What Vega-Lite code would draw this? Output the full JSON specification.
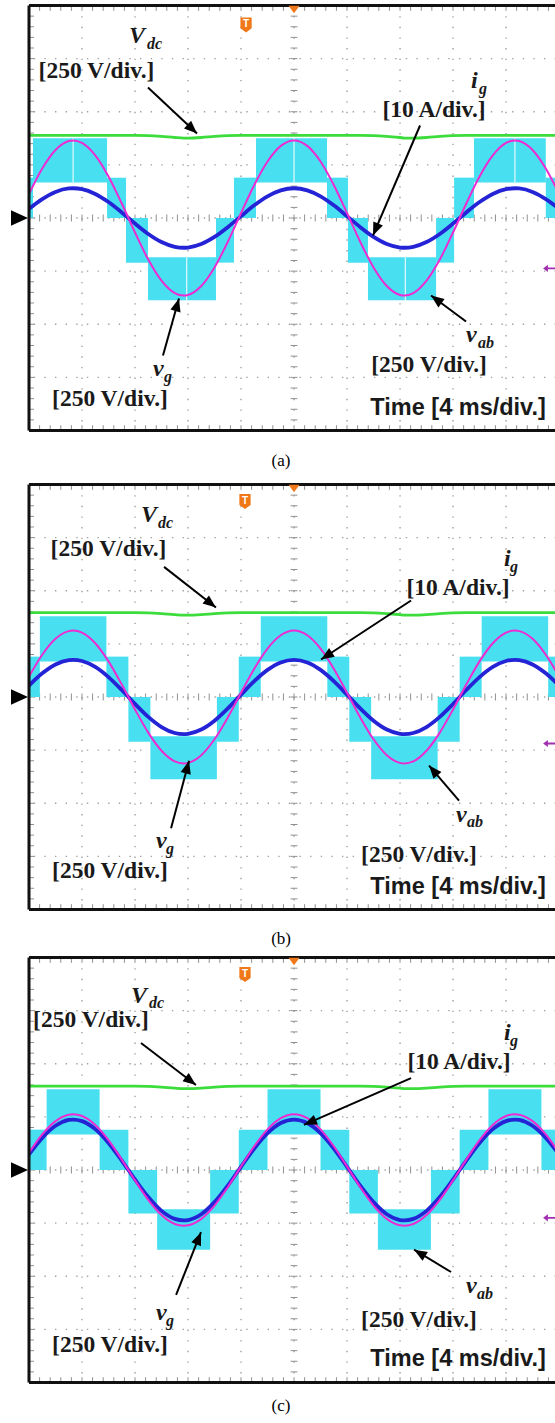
{
"$schema": "https://vega.github.io/schema/vega-lite/v6.json",
"padding": {"left": 10, "top": 3.5, "right": 0, "bottom": 4},
"autosize": {"type": "pad"},
"background": "white",
"config": {"view": {"stroke": null}, "axis": {"disable": true}, "legend": {"disable": true}},
"spacing": 54,
"bounds": "flush",
"datasets": {
"gx": [{"t":4},{"t":8},{"t":12},{"t":16},{"t":20},{"t":24},{"t":28},{"t":32},{"t":36}],
"gy": [{"v":-3},{"v":-2},{"v":-1},{"v":0},{"v":1},{"v":2},{"v":3}],
"bl": [{"t":0}],
"bt": [{"v":4},{"v":-4}],
"gap": [{"p":"a","t":3.33,"lo":0.67,"hi":1.5},{"p":"a","t":20,"lo":0.67,"hi":1.5},{"p":"a","t":36.67,"lo":0.67,"hi":1.5},{"p":"a","t":11.9,"lo":-1.55,"hi":-0.74},{"p":"a","t":28.4,"lo":-1.55,"hi":-0.74}],
"tx": [{"t":0.8},{"t":1.6},{"t":2.4},{"t":3.2},{"t":4},{"t":4.8},{"t":5.6},{"t":6.4},{"t":7.2},{"t":8},{"t":8.8},{"t":9.6},{"t":10.4},{"t":11.2},{"t":12},{"t":12.8},{"t":13.6},{"t":14.4},{"t":15.2},{"t":16},{"t":16.8},{"t":17.6},{"t":18.4},{"t":19.2},{"t":20},{"t":20.8},{"t":21.6},{"t":22.4},{"t":23.2},{"t":24},{"t":24.8},{"t":25.6},{"t":26.4},{"t":27.2},{"t":28},{"t":28.8},{"t":29.6},{"t":30.4},{"t":31.2},{"t":32},{"t":32.8},{"t":33.6},{"t":34.4},{"t":35.2},{"t":36},{"t":36.8},{"t":37.6},{"t":38.4},{"t":39.2}],
"ty": [{"v":-3.8},{"v":-3.6},{"v":-3.4},{"v":-3.2},{"v":-3},{"v":-2.8},{"v":-2.6},{"v":-2.4},{"v":-2.2},{"v":-2},{"v":-1.8},{"v":-1.6},{"v":-1.4},{"v":-1.2},{"v":-1},{"v":-0.8},{"v":-0.6},{"v":-0.4},{"v":-0.2},{"v":0},{"v":0.2},{"v":0.4},{"v":0.6},{"v":0.8},{"v":1},{"v":1.2},{"v":1.4},{"v":1.6},{"v":1.8},{"v":2},{"v":2.2},{"v":2.4},{"v":2.6},{"v":2.8},{"v":3},{"v":3.2},{"v":3.4},{"v":3.6},{"v":3.8}],
"w": [
{"p":"a","t":0,"g":0.451,"i":0.173,"d":1.555},{"p":"a","t":1,"g":0.93,"i":0.357,"d":1.555},{"p":"a","t":2,"g":1.279,"i":0.491,"d":1.555},{"p":"a","t":3,"g":1.448,"i":0.556,"d":1.555},{"p":"a","t":3.33,"g":1.46,"i":0.56,"d":1.555},{"p":"a","t":4,"g":1.415,"i":0.543,"d":1.555},{"p":"a","t":5,"g":1.181,"i":0.453,"d":1.555},{"p":"a","t":6,"g":0.783,"i":0.3,"d":1.555},{"p":"a","t":7,"g":0.273,"i":0.105,"d":1.555},{"p":"a","t":8,"g":-0.273,"i":-0.105,"d":1.555},{"p":"a","t":9,"g":-0.783,"i":-0.3,"d":1.55},{"p":"a","t":10,"g":-1.181,"i":-0.453,"d":1.535},{"p":"a","t":11,"g":-1.415,"i":-0.543,"d":1.515},{"p":"a","t":11.67,"g":-1.46,"i":-0.56,"d":1.505},{"p":"a","t":12,"g":-1.448,"i":-0.556,"d":1.505},{"p":"a","t":13,"g":-1.279,"i":-0.491,"d":1.515},{"p":"a","t":14,"g":-0.93,"i":-0.357,"d":1.535},{"p":"a","t":15,"g":-0.451,"i":-0.173,"d":1.55},{"p":"a","t":16,"g":0.092,"i":0.035,"d":1.555},{"p":"a","t":17,"g":0.622,"i":0.239,"d":1.555},{"p":"a","t":18,"g":1.064,"i":0.408,"d":1.555},{"p":"a","t":19,"g":1.358,"i":0.521,"d":1.555},{"p":"a","t":20,"g":1.46,"i":0.56,"d":1.555},{"p":"a","t":21,"g":1.358,"i":0.521,"d":1.555},{"p":"a","t":22,"g":1.064,"i":0.408,"d":1.555},{"p":"a","t":23,"g":0.622,"i":0.239,"d":1.555},{"p":"a","t":24,"g":0.092,"i":0.035,"d":1.555},{"p":"a","t":25,"g":-0.451,"i":-0.173,"d":1.555},{"p":"a","t":26,"g":-0.93,"i":-0.357,"d":1.55},{"p":"a","t":27,"g":-1.279,"i":-0.491,"d":1.535},{"p":"a","t":28,"g":-1.448,"i":-0.556,"d":1.515},{"p":"a","t":28.33,"g":-1.46,"i":-0.56,"d":1.505},{"p":"a","t":29,"g":-1.415,"i":-0.543,"d":1.505},{"p":"a","t":30,"g":-1.181,"i":-0.453,"d":1.515},{"p":"a","t":31,"g":-0.783,"i":-0.3,"d":1.535},{"p":"a","t":32,"g":-0.273,"i":-0.105,"d":1.55},{"p":"a","t":33,"g":0.273,"i":0.105,"d":1.555},{"p":"a","t":34,"g":0.783,"i":0.3,"d":1.555},{"p":"a","t":35,"g":1.181,"i":0.453,"d":1.555},{"p":"a","t":36,"g":1.415,"i":0.543,"d":1.555},{"p":"a","t":36.67,"g":1.46,"i":0.56,"d":1.555},{"p":"a","t":37,"g":1.448,"i":0.556,"d":1.555},{"p":"a","t":38,"g":1.279,"i":0.491,"d":1.555},{"p":"a","t":39,"g":0.93,"i":0.357,"d":1.555},{"p":"a","t":40,"g":0.451,"i":0.173,"d":1.555},
{"p":"b","t":0,"g":0.386,"i":0.216,"d":1.59},{"p":"b","t":1,"g":0.796,"i":0.446,"d":1.59},{"p":"b","t":2,"g":1.095,"i":0.613,"d":1.59},{"p":"b","t":3,"g":1.24,"i":0.694,"d":1.59},{"p":"b","t":3.33,"g":1.25,"i":0.7,"d":1.59},{"p":"b","t":4,"g":1.211,"i":0.678,"d":1.59},{"p":"b","t":5,"g":1.011,"i":0.566,"d":1.59},{"p":"b","t":6,"g":0.67,"i":0.375,"d":1.59},{"p":"b","t":7,"g":0.234,"i":0.131,"d":1.59},{"p":"b","t":8,"g":-0.234,"i":-0.131,"d":1.59},{"p":"b","t":9,"g":-0.67,"i":-0.375,"d":1.585},{"p":"b","t":10,"g":-1.011,"i":-0.566,"d":1.57},{"p":"b","t":11,"g":-1.211,"i":-0.678,"d":1.55},{"p":"b","t":11.67,"g":-1.25,"i":-0.7,"d":1.54},{"p":"b","t":12,"g":-1.24,"i":-0.694,"d":1.54},{"p":"b","t":13,"g":-1.095,"i":-0.613,"d":1.55},{"p":"b","t":14,"g":-0.796,"i":-0.446,"d":1.57},{"p":"b","t":15,"g":-0.386,"i":-0.216,"d":1.585},{"p":"b","t":16,"g":0.079,"i":0.044,"d":1.59},{"p":"b","t":17,"g":0.533,"i":0.298,"d":1.59},{"p":"b","t":18,"g":0.911,"i":0.51,"d":1.59},{"p":"b","t":19,"g":1.162,"i":0.651,"d":1.59},{"p":"b","t":20,"g":1.25,"i":0.7,"d":1.59},{"p":"b","t":21,"g":1.162,"i":0.651,"d":1.59},{"p":"b","t":22,"g":0.911,"i":0.51,"d":1.59},{"p":"b","t":23,"g":0.533,"i":0.298,"d":1.59},{"p":"b","t":24,"g":0.079,"i":0.044,"d":1.59},{"p":"b","t":25,"g":-0.386,"i":-0.216,"d":1.59},{"p":"b","t":26,"g":-0.796,"i":-0.446,"d":1.585},{"p":"b","t":27,"g":-1.095,"i":-0.613,"d":1.57},{"p":"b","t":28,"g":-1.24,"i":-0.694,"d":1.55},{"p":"b","t":28.33,"g":-1.25,"i":-0.7,"d":1.54},{"p":"b","t":29,"g":-1.211,"i":-0.678,"d":1.54},{"p":"b","t":30,"g":-1.011,"i":-0.566,"d":1.55},{"p":"b","t":31,"g":-0.67,"i":-0.375,"d":1.57},{"p":"b","t":32,"g":-0.234,"i":-0.131,"d":1.585},{"p":"b","t":33,"g":0.234,"i":0.131,"d":1.59},{"p":"b","t":34,"g":0.67,"i":0.375,"d":1.59},{"p":"b","t":35,"g":1.011,"i":0.566,"d":1.59},{"p":"b","t":36,"g":1.211,"i":0.678,"d":1.59},{"p":"b","t":36.67,"g":1.25,"i":0.7,"d":1.59},{"p":"b","t":37,"g":1.24,"i":0.694,"d":1.59},{"p":"b","t":38,"g":1.095,"i":0.613,"d":1.59},{"p":"b","t":39,"g":0.796,"i":0.446,"d":1.59},{"p":"b","t":40,"g":0.386,"i":0.216,"d":1.59},
{"p":"c","t":0,"g":0.324,"i":0.294,"d":1.58},{"p":"c","t":1,"g":0.669,"i":0.605,"d":1.58},{"p":"c","t":2,"g":0.92,"i":0.832,"d":1.58},{"p":"c","t":3,"g":1.042,"i":0.942,"d":1.58},{"p":"c","t":3.33,"g":1.05,"i":0.95,"d":1.58},{"p":"c","t":4,"g":1.017,"i":0.92,"d":1.58},{"p":"c","t":5,"g":0.849,"i":0.769,"d":1.58},{"p":"c","t":6,"g":0.563,"i":0.509,"d":1.58},{"p":"c","t":7,"g":0.196,"i":0.178,"d":1.58},{"p":"c","t":8,"g":-0.196,"i":-0.178,"d":1.58},{"p":"c","t":9,"g":-0.563,"i":-0.509,"d":1.575},{"p":"c","t":10,"g":-0.849,"i":-0.769,"d":1.56},{"p":"c","t":11,"g":-1.017,"i":-0.92,"d":1.54},{"p":"c","t":11.67,"g":-1.05,"i":-0.95,"d":1.53},{"p":"c","t":12,"g":-1.042,"i":-0.942,"d":1.53},{"p":"c","t":13,"g":-0.92,"i":-0.832,"d":1.54},{"p":"c","t":14,"g":-0.669,"i":-0.605,"d":1.56},{"p":"c","t":15,"g":-0.324,"i":-0.294,"d":1.575},{"p":"c","t":16,"g":0.066,"i":0.06,"d":1.58},{"p":"c","t":17,"g":0.447,"i":0.405,"d":1.58},{"p":"c","t":18,"g":0.765,"i":0.693,"d":1.58},{"p":"c","t":19,"g":0.976,"i":0.884,"d":1.58},{"p":"c","t":20,"g":1.05,"i":0.95,"d":1.58},{"p":"c","t":21,"g":0.976,"i":0.884,"d":1.58},{"p":"c","t":22,"g":0.765,"i":0.693,"d":1.58},{"p":"c","t":23,"g":0.447,"i":0.405,"d":1.58},{"p":"c","t":24,"g":0.066,"i":0.06,"d":1.58},{"p":"c","t":25,"g":-0.324,"i":-0.294,"d":1.58},{"p":"c","t":26,"g":-0.669,"i":-0.605,"d":1.575},{"p":"c","t":27,"g":-0.92,"i":-0.832,"d":1.56},{"p":"c","t":28,"g":-1.042,"i":-0.942,"d":1.54},{"p":"c","t":28.33,"g":-1.05,"i":-0.95,"d":1.53},{"p":"c","t":29,"g":-1.017,"i":-0.92,"d":1.53},{"p":"c","t":30,"g":-0.849,"i":-0.769,"d":1.54},{"p":"c","t":31,"g":-0.563,"i":-0.509,"d":1.56},{"p":"c","t":32,"g":-0.196,"i":-0.178,"d":1.575},{"p":"c","t":33,"g":0.196,"i":0.178,"d":1.58},{"p":"c","t":34,"g":0.563,"i":0.509,"d":1.58},{"p":"c","t":35,"g":0.849,"i":0.769,"d":1.58},{"p":"c","t":36,"g":1.017,"i":0.92,"d":1.58},{"p":"c","t":36.67,"g":1.05,"i":0.95,"d":1.58},{"p":"c","t":37,"g":1.042,"i":0.942,"d":1.58},{"p":"c","t":38,"g":0.92,"i":0.832,"d":1.58},{"p":"c","t":39,"g":0.669,"i":0.605,"d":1.58},{"p":"c","t":40,"g":0.324,"i":0.294,"d":1.58}
],
"vab": [
{"p":"a","t1":0,"t2":0.3,"lo":0,"hi":0.76},{"p":"a","t1":0.3,"t2":5.89,"lo":0.67,"hi":1.5},{"p":"a","t1":5.89,"t2":7.32,"lo":0,"hi":0.76},{"p":"a","t1":7.32,"t2":8.98,"lo":-0.84,"hi":0},{"p":"a","t1":8.98,"t2":14.11,"lo":-1.55,"hi":-0.74},{"p":"a","t1":14.11,"t2":15.47,"lo":-0.84,"hi":0},{"p":"a","t1":15.47,"t2":17.13,"lo":0,"hi":0.76},{"p":"a","t1":17.13,"t2":22.49,"lo":0.67,"hi":1.5},{"p":"a","t1":22.49,"t2":24.07,"lo":0,"hi":0.76},{"p":"a","t1":24.07,"t2":25.58,"lo":-0.84,"hi":0},{"p":"a","t1":25.58,"t2":30.72,"lo":-1.55,"hi":-0.74},{"p":"a","t1":30.72,"t2":32.08,"lo":-0.84,"hi":0},{"p":"a","t1":32.08,"t2":33.58,"lo":0,"hi":0.76},{"p":"a","t1":33.58,"t2":39.0,"lo":0.67,"hi":1.5},{"p":"a","t1":39.0,"t2":39.77,"lo":0,"hi":0.76},
{"p":"b","t1":0,"t2":0.82,"lo":0,"hi":0.76},{"p":"b","t1":0.82,"t2":5.84,"lo":0.67,"hi":1.52},{"p":"b","t1":5.84,"t2":7.5,"lo":0,"hi":0.76},{"p":"b","t1":7.5,"t2":9.16,"lo":-0.84,"hi":0},{"p":"b","t1":9.16,"t2":14.18,"lo":-1.55,"hi":-0.74},{"p":"b","t1":14.18,"t2":15.83,"lo":-0.84,"hi":0},{"p":"b","t1":15.83,"t2":17.49,"lo":0,"hi":0.76},{"p":"b","t1":17.49,"t2":22.51,"lo":0.67,"hi":1.52},{"p":"b","t1":22.51,"t2":24.17,"lo":0,"hi":0.76},{"p":"b","t1":24.17,"t2":25.82,"lo":-0.84,"hi":0},{"p":"b","t1":25.82,"t2":30.84,"lo":-1.55,"hi":-0.74},{"p":"b","t1":30.84,"t2":32.5,"lo":-0.84,"hi":0},{"p":"b","t1":32.5,"t2":34.16,"lo":0,"hi":0.76},{"p":"b","t1":34.16,"t2":39.18,"lo":0.67,"hi":1.52},{"p":"b","t1":39.18,"t2":39.77,"lo":0,"hi":0.76},
{"p":"c","t1":0,"t2":1.33,"lo":0,"hi":0.76},{"p":"c","t1":1.33,"t2":5.33,"lo":0.67,"hi":1.52},{"p":"c","t1":5.33,"t2":7.5,"lo":0,"hi":0.76},{"p":"c","t1":7.5,"t2":9.67,"lo":-0.82,"hi":0},{"p":"c","t1":9.67,"t2":13.67,"lo":-1.5,"hi":-0.74},{"p":"c","t1":13.67,"t2":15.83,"lo":-0.82,"hi":0},{"p":"c","t1":15.83,"t2":18.0,"lo":0,"hi":0.76},{"p":"c","t1":18.0,"t2":22.0,"lo":0.67,"hi":1.52},{"p":"c","t1":22.0,"t2":24.17,"lo":0,"hi":0.76},{"p":"c","t1":24.17,"t2":26.33,"lo":-0.82,"hi":0},{"p":"c","t1":26.33,"t2":30.33,"lo":-1.5,"hi":-0.74},{"p":"c","t1":30.33,"t2":32.5,"lo":-0.82,"hi":0},{"p":"c","t1":32.5,"t2":34.67,"lo":0,"hi":0.76},{"p":"c","t1":34.67,"t2":38.67,"lo":0.67,"hi":1.52},{"p":"c","t1":38.67,"t2":39.77,"lo":0,"hi":0.76}
],
"ar": [
{"p":"a","t1":8.98,"v1":2.456,"t2":12.68,"v2":1.591},{"p":"a","t1":29.51,"v1":1.741,"t2":25.96,"v2":-0.329},{"p":"a","t1":10.11,"v1":-2.588,"t2":11.32,"v2":-1.515},{"p":"a","t1":32.98,"v1":-1.948,"t2":30.34,"v2":-1.459},
{"p":"b","t1":10.19,"v1":2.45,"t2":14.11,"v2":1.685},{"p":"b","t1":28.83,"v1":1.816,"t2":22.04,"v2":0.706},{"p":"b","t1":10.72,"v1":-2.47,"t2":12.08,"v2":-1.2},{"p":"b","t1":32.45,"v1":-1.95,"t2":30.19,"v2":-1.29},
{"p":"c","t1":8.45,"v1":2.39,"t2":12.6,"v2":1.6},{"p":"c","t1":28.83,"v1":1.73,"t2":20.75,"v2":0.85},{"p":"c","t1":11.1,"v1":-2.35,"t2":12.98,"v2":-1.17},{"p":"c","t1":31.85,"v1":-1.92,"t2":29.06,"v2":-1.5}
],
"lb": [
{"p":"a","k":"m","s":"V","t":7.55,"v":3.285},{"p":"a","k":"s","s":"dc","t":8.9,"v":3.19},{"p":"a","k":"u","s":"[250 V/div.]","t":5.09,"v":2.767},{"p":"a","k":"m","s":"i","t":33.36,"v":2.438},{"p":"a","k":"s","s":"g","t":33.96,"v":2.325},{"p":"a","k":"u","s":"[10 A/div.]","t":30.57,"v":2.042},{"p":"a","k":"m","s":"v","t":9.36,"v":-2.965},{"p":"a","k":"s","s":"g","t":10.19,"v":-3.078},{"p":"a","k":"u","s":"[250 V/div.]","t":6.11,"v":-3.416},{"p":"a","k":"m","s":"v","t":32.98,"v":-2.343},{"p":"a","k":"s","s":"ab","t":33.89,"v":-2.438},{"p":"a","k":"u","s":"[250 V/div.]","t":30.19,"v":-2.758},{"p":"a","k":"T","s":"Time [4 ms/div.]","t":32.38,"v":-3.576},{"p":"a","k":"c","s":"(a)","t":19.02,"v":-4.565},
{"p":"b","k":"m","s":"V","t":8.45,"v":3.285},{"p":"b","k":"s","s":"dc","t":9.74,"v":3.19},{"p":"b","k":"u","s":"[250 V/div.]","t":6.0,"v":2.795},{"p":"b","k":"m","s":"i","t":35.85,"v":2.475},{"p":"b","k":"s","s":"g","t":36.3,"v":2.36},{"p":"b","k":"u","s":"[10 A/div.]","t":32.38,"v":2.06},{"p":"b","k":"m","s":"v","t":9.58,"v":-2.85},{"p":"b","k":"s","s":"g","t":10.34,"v":-2.96},{"p":"b","k":"u","s":"[250 V/div.]","t":6.11,"v":-3.266},{"p":"b","k":"m","s":"v","t":32.23,"v":-2.36},{"p":"b","k":"s","s":"ab","t":33.06,"v":-2.45},{"p":"b","k":"u","s":"[250 V/div.]","t":29.43,"v":-2.98},{"p":"b","k":"T","s":"Time [4 ms/div.]","t":32.38,"v":-3.576},{"p":"b","k":"c","s":"(b)","t":19.02,"v":-4.56},
{"p":"c","k":"m","s":"V","t":7.7,"v":3.14},{"p":"c","k":"s","s":"dc","t":9.06,"v":3.05},{"p":"c","k":"u","s":"[250 V/div.]","t":4.68,"v":2.82},{"p":"c","k":"m","s":"i","t":35.85,"v":2.45},{"p":"c","k":"s","s":"g","t":36.3,"v":2.34},{"p":"c","k":"u","s":"[10 A/div.]","t":32.45,"v":2.03},{"p":"c","k":"m","s":"v","t":9.58,"v":-2.82},{"p":"c","k":"s","s":"g","t":10.34,"v":-2.93},{"p":"c","k":"u","s":"[250 V/div.]","t":6.11,"v":-3.29},{"p":"c","k":"m","s":"v","t":32.98,"v":-2.32},{"p":"c","k":"s","s":"ab","t":33.8,"v":-2.42},{"p":"c","k":"u","s":"[250 V/div.]","t":29.43,"v":-2.82},{"p":"c","k":"T","s":"Time [4 ms/div.]","t":32.38,"v":-3.56},{"p":"c","k":"c","s":"(c)","t":19.02,"v":-4.45}
],
"mk": [
{"p":"a","k":"gnd","t":-0.717,"v":0},{"p":"a","k":"trig","t":16.38,"v":3.633},{"p":"a","k":"tri","t":20,"v":3.925},{"p":"a","k":"pur","t":39.25,"v":-0.95},
{"p":"b","k":"gnd","t":-0.717,"v":0},{"p":"b","k":"trig","t":16.3,"v":3.68},{"p":"b","k":"tri","t":20,"v":3.925},{"p":"b","k":"pur","t":39.25,"v":-0.875},
{"p":"c","k":"gnd","t":-0.717,"v":0},{"p":"c","k":"trig","t":16.3,"v":3.68},{"p":"c","k":"tri","t":20,"v":3.925},{"p":"c","k":"pur","t":39.25,"v":-0.9}
]
},
"vconcat": [
{"width": 527, "height": 425, "layer": [
{"data":{"name":"gx"},"mark":{"type":"rule","color":"#a0a0a0","strokeWidth":1.4,"strokeDash":[1.4,9.23]},"encoding":{"x":{"field":"t","type":"quantitative","scale":{"domain":[0,39.77],"nice":false,"zero":false}}}},
{"data":{"name":"gy"},"mark":{"type":"rule","color":"#a0a0a0","strokeWidth":1.4,"strokeDash":[1.4,9.23]},"encoding":{"y":{"field":"v","type":"quantitative","scale":{"domain":[-4,4],"nice":false,"zero":false}}}},
{"data":{"name":"tx"},"mark":{"type":"rule","color":"#909090","strokeWidth":1},"encoding":{"x":{"field":"t","type":"quantitative"},"y":{"datum":-0.066},"y2":{"datum":0.066}}},
{"data":{"name":"tx"},"mark":{"type":"rule","color":"#909090","strokeWidth":1},"encoding":{"x":{"field":"t","type":"quantitative"},"y":{"datum":4},"y2":{"datum":3.9}}},
{"data":{"name":"tx"},"mark":{"type":"rule","color":"#909090","strokeWidth":1},"encoding":{"x":{"field":"t","type":"quantitative"},"y":{"datum":-4},"y2":{"datum":-3.9}}},
{"data":{"name":"ty"},"mark":{"type":"rule","color":"#909090","strokeWidth":1},"encoding":{"y":{"field":"v","type":"quantitative"},"x":{"datum":19.74},"x2":{"datum":20.26}}},
{"data":{"name":"ty"},"mark":{"type":"rule","color":"#909090","strokeWidth":1},"encoding":{"y":{"field":"v","type":"quantitative"},"x":{"datum":0},"x2":{"datum":0.38}}},
{"data":{"name":"vab"},"transform":[{"filter":"datum.p=='a'"}],"mark":{"type":"rect","color":"#48e0f0","opacity":1},"encoding":{"x":{"field":"t1","type":"quantitative"},"x2":{"field":"t2"},"y":{"field":"lo","type":"quantitative"},"y2":{"field":"hi"}}},
{"data":{"name":"gap"},"transform":[{"filter":"datum.p=='a'"}],"mark":{"type":"rule","color":"#ffffff","strokeWidth":1.2,"opacity":0.85},"encoding":{"x":{"field":"t","type":"quantitative"},"y":{"field":"lo","type":"quantitative"},"y2":{"field":"hi"}}},
{"data":{"name":"w"},"transform":[{"filter":"datum.p=='a'"}],"mark":{"type":"line","color":"#3cdc3c","strokeWidth":2.8,"interpolate":"monotone","clip":true},"encoding":{"x":{"field":"t","type":"quantitative"},"y":{"field":"d","type":"quantitative"}}},
{"data":{"name":"w"},"transform":[{"filter":"datum.p=='a'"}],"mark":{"type":"line","color":"#2424d6","strokeWidth":3.8,"interpolate":"monotone","clip":true},"encoding":{"x":{"field":"t","type":"quantitative"},"y":{"field":"i","type":"quantitative"}}},
{"data":{"name":"w"},"transform":[{"filter":"datum.p=='a'"}],"mark":{"type":"line","color":"#ee2ad2","strokeWidth":2,"interpolate":"monotone","clip":true},"encoding":{"x":{"field":"t","type":"quantitative"},"y":{"field":"g","type":"quantitative"}}},
{"data":{"name":"bl"},"mark":{"type":"rule","color":"#111111","strokeWidth":3},"encoding":{"x":{"field":"t","type":"quantitative"}}},
{"data":{"name":"bt"},"mark":{"type":"rule","color":"#111111","strokeWidth":3},"encoding":{"y":{"field":"v","type":"quantitative"}}},
{"data":{"name":"ar"},"transform":[{"filter":"datum.p=='a'"}],"mark":{"type":"rule","color":"#000000","strokeWidth":2},"encoding":{"x":{"field":"t1","type":"quantitative"},"y":{"field":"v1","type":"quantitative"},"x2":{"field":"t2"},"y2":{"field":"v2"}}},
{"data":{"name":"ar"},"transform":[{"filter":"datum.p=='a'"},{"calculate":"atan2((datum.t2-datum.t1)*13.25,(datum.v2-datum.v1)*53.125)*180/PI","as":"ang"}],"mark":{"type":"point","filled":true,"color":"#000000","opacity":1,"shape":"M 0 0 L 0.4 1 L -0.4 1 Z","size":676,"strokeWidth":0},"encoding":{"x":{"field":"t2","type":"quantitative"},"y":{"field":"v2","type":"quantitative"},"angle":{"field":"ang","type":"quantitative","scale":null}}},
{"data":{"name":"lb"},"transform":[{"filter":"datum.p=='a' && datum.k=='m'"}],"mark":{"type":"text","font":"Liberation Serif","fontStyle":"italic","fontWeight":"bold","fontSize":24,"align":"left","baseline":"alphabetic","color":"#1a1a1a"},"encoding":{"x":{"field":"t","type":"quantitative"},"y":{"field":"v","type":"quantitative"},"text":{"field":"s"}}},
{"data":{"name":"lb"},"transform":[{"filter":"datum.p=='a' && datum.k=='s'"}],"mark":{"type":"text","font":"Liberation Serif","fontStyle":"italic","fontWeight":"bold","fontSize":16,"align":"left","baseline":"alphabetic","color":"#1a1a1a"},"encoding":{"x":{"field":"t","type":"quantitative"},"y":{"field":"v","type":"quantitative"},"text":{"field":"s"}}},
{"data":{"name":"lb"},"transform":[{"filter":"datum.p=='a' && datum.k=='u'"}],"mark":{"type":"text","font":"Liberation Serif","fontWeight":"bold","fontSize":23.5,"align":"center","baseline":"middle","color":"#1a1a1a"},"encoding":{"x":{"field":"t","type":"quantitative"},"y":{"field":"v","type":"quantitative"},"text":{"field":"s"}}},
{"data":{"name":"lb"},"transform":[{"filter":"datum.p=='a' && datum.k=='T'"}],"mark":{"type":"text","font":"Liberation Sans","fontWeight":"bold","fontSize":23.5,"align":"center","baseline":"middle","color":"#1a1a1a"},"encoding":{"x":{"field":"t","type":"quantitative"},"y":{"field":"v","type":"quantitative"},"text":{"field":"s"}}},
{"data":{"name":"lb"},"transform":[{"filter":"datum.p=='a' && datum.k=='c'"}],"mark":{"type":"text","font":"Liberation Serif","fontSize":17,"align":"center","baseline":"middle","color":"#000000"},"encoding":{"x":{"field":"t","type":"quantitative"},"y":{"field":"v","type":"quantitative"},"text":{"field":"s"}}},
{"data":{"name":"mk"},"transform":[{"filter":"datum.p=='a' && datum.k=='gnd'"}],"mark":{"type":"point","filled":true,"opacity":1,"strokeWidth":0,"color":"#000000","shape":"M -1 -0.9 L 1 0 L -1 0.9 Z","size":289},"encoding":{"x":{"field":"t","type":"quantitative"},"y":{"field":"v","type":"quantitative"}}},
{"data":{"name":"mk"},"transform":[{"filter":"datum.p=='a' && datum.k=='trig'"}],"mark":{"type":"point","filled":true,"opacity":1,"strokeWidth":0,"color":"#f07818","shape":"M -0.75 -1 L 0.75 -1 L 0.75 0.45 L 0 1 L -0.75 0.45 Z","size":225},"encoding":{"x":{"field":"t","type":"quantitative"},"y":{"field":"v","type":"quantitative"}}},
{"data":{"name":"mk"},"transform":[{"filter":"datum.p=='a' && datum.k=='tri'"}],"mark":{"type":"point","filled":true,"opacity":1,"strokeWidth":0,"color":"#f07818","shape":"M -1 -0.7 L 1 -0.7 L 0 0.7 Z","size":121},"encoding":{"x":{"field":"t","type":"quantitative"},"y":{"field":"v","type":"quantitative"}}},
{"data":{"name":"mk"},"transform":[{"filter":"datum.p=='a' && datum.k=='pur'"}],"mark":{"type":"point","filled":true,"opacity":1,"strokeWidth":0,"color":"#a030b0","shape":"M -1 0 L -0.2 -0.6 L -0.2 -0.15 L 1 -0.15 L 1 0.15 L -0.2 0.15 L -0.2 0.6 Z","size":144},"encoding":{"x":{"field":"t","type":"quantitative"},"y":{"field":"v","type":"quantitative"}}},
{"data":{"name":"mk"},"transform":[{"filter":"datum.p=='a' && datum.k=='trig'"}],"mark":{"type":"text","text":"T","font":"Liberation Sans","fontWeight":"bold","fontSize":10,"color":"#ffffff","align":"center","baseline":"middle","dy":-1},"encoding":{"x":{"field":"t","type":"quantitative"},"y":{"field":"v","type":"quantitative"}}}
]},
{"spacing": 48, "bounds": "flush", "vconcat": [
{"width": 527, "height": 425, "layer": [
{"data":{"name":"gx"},"mark":{"type":"rule","color":"#a0a0a0","strokeWidth":1.4,"strokeDash":[1.4,9.23]},"encoding":{"x":{"field":"t","type":"quantitative","scale":{"domain":[0,39.77],"nice":false,"zero":false}}}},
{"data":{"name":"gy"},"mark":{"type":"rule","color":"#a0a0a0","strokeWidth":1.4,"strokeDash":[1.4,9.23]},"encoding":{"y":{"field":"v","type":"quantitative","scale":{"domain":[-4,4],"nice":false,"zero":false}}}},
{"data":{"name":"tx"},"mark":{"type":"rule","color":"#909090","strokeWidth":1},"encoding":{"x":{"field":"t","type":"quantitative"},"y":{"datum":-0.066},"y2":{"datum":0.066}}},
{"data":{"name":"tx"},"mark":{"type":"rule","color":"#909090","strokeWidth":1},"encoding":{"x":{"field":"t","type":"quantitative"},"y":{"datum":4},"y2":{"datum":3.9}}},
{"data":{"name":"tx"},"mark":{"type":"rule","color":"#909090","strokeWidth":1},"encoding":{"x":{"field":"t","type":"quantitative"},"y":{"datum":-4},"y2":{"datum":-3.9}}},
{"data":{"name":"ty"},"mark":{"type":"rule","color":"#909090","strokeWidth":1},"encoding":{"y":{"field":"v","type":"quantitative"},"x":{"datum":19.74},"x2":{"datum":20.26}}},
{"data":{"name":"ty"},"mark":{"type":"rule","color":"#909090","strokeWidth":1},"encoding":{"y":{"field":"v","type":"quantitative"},"x":{"datum":0},"x2":{"datum":0.38}}},
{"data":{"name":"vab"},"transform":[{"filter":"datum.p=='b'"}],"mark":{"type":"rect","color":"#48e0f0","opacity":1},"encoding":{"x":{"field":"t1","type":"quantitative"},"x2":{"field":"t2"},"y":{"field":"lo","type":"quantitative"},"y2":{"field":"hi"}}},
{"data":{"name":"w"},"transform":[{"filter":"datum.p=='b'"}],"mark":{"type":"line","color":"#3cdc3c","strokeWidth":2.8,"interpolate":"monotone","clip":true},"encoding":{"x":{"field":"t","type":"quantitative"},"y":{"field":"d","type":"quantitative"}}},
{"data":{"name":"w"},"transform":[{"filter":"datum.p=='b'"}],"mark":{"type":"line","color":"#2424d6","strokeWidth":3.8,"interpolate":"monotone","clip":true},"encoding":{"x":{"field":"t","type":"quantitative"},"y":{"field":"i","type":"quantitative"}}},
{"data":{"name":"w"},"transform":[{"filter":"datum.p=='b'"}],"mark":{"type":"line","color":"#ee2ad2","strokeWidth":2,"interpolate":"monotone","clip":true},"encoding":{"x":{"field":"t","type":"quantitative"},"y":{"field":"g","type":"quantitative"}}},
{"data":{"name":"bl"},"mark":{"type":"rule","color":"#111111","strokeWidth":3},"encoding":{"x":{"field":"t","type":"quantitative"}}},
{"data":{"name":"bt"},"mark":{"type":"rule","color":"#111111","strokeWidth":3},"encoding":{"y":{"field":"v","type":"quantitative"}}},
{"data":{"name":"ar"},"transform":[{"filter":"datum.p=='b'"}],"mark":{"type":"rule","color":"#000000","strokeWidth":2},"encoding":{"x":{"field":"t1","type":"quantitative"},"y":{"field":"v1","type":"quantitative"},"x2":{"field":"t2"},"y2":{"field":"v2"}}},
{"data":{"name":"ar"},"transform":[{"filter":"datum.p=='b'"},{"calculate":"atan2((datum.t2-datum.t1)*13.25,(datum.v2-datum.v1)*53.125)*180/PI","as":"ang"}],"mark":{"type":"point","filled":true,"color":"#000000","opacity":1,"shape":"M 0 0 L 0.4 1 L -0.4 1 Z","size":676,"strokeWidth":0},"encoding":{"x":{"field":"t2","type":"quantitative"},"y":{"field":"v2","type":"quantitative"},"angle":{"field":"ang","type":"quantitative","scale":null}}},
{"data":{"name":"lb"},"transform":[{"filter":"datum.p=='b' && datum.k=='m'"}],"mark":{"type":"text","font":"Liberation Serif","fontStyle":"italic","fontWeight":"bold","fontSize":24,"align":"left","baseline":"alphabetic","color":"#1a1a1a"},"encoding":{"x":{"field":"t","type":"quantitative"},"y":{"field":"v","type":"quantitative"},"text":{"field":"s"}}},
{"data":{"name":"lb"},"transform":[{"filter":"datum.p=='b' && datum.k=='s'"}],"mark":{"type":"text","font":"Liberation Serif","fontStyle":"italic","fontWeight":"bold","fontSize":16,"align":"left","baseline":"alphabetic","color":"#1a1a1a"},"encoding":{"x":{"field":"t","type":"quantitative"},"y":{"field":"v","type":"quantitative"},"text":{"field":"s"}}},
{"data":{"name":"lb"},"transform":[{"filter":"datum.p=='b' && datum.k=='u'"}],"mark":{"type":"text","font":"Liberation Serif","fontWeight":"bold","fontSize":23.5,"align":"center","baseline":"middle","color":"#1a1a1a"},"encoding":{"x":{"field":"t","type":"quantitative"},"y":{"field":"v","type":"quantitative"},"text":{"field":"s"}}},
{"data":{"name":"lb"},"transform":[{"filter":"datum.p=='b' && datum.k=='T'"}],"mark":{"type":"text","font":"Liberation Sans","fontWeight":"bold","fontSize":23.5,"align":"center","baseline":"middle","color":"#1a1a1a"},"encoding":{"x":{"field":"t","type":"quantitative"},"y":{"field":"v","type":"quantitative"},"text":{"field":"s"}}},
{"data":{"name":"lb"},"transform":[{"filter":"datum.p=='b' && datum.k=='c'"}],"mark":{"type":"text","font":"Liberation Serif","fontSize":17,"align":"center","baseline":"middle","color":"#000000"},"encoding":{"x":{"field":"t","type":"quantitative"},"y":{"field":"v","type":"quantitative"},"text":{"field":"s"}}},
{"data":{"name":"mk"},"transform":[{"filter":"datum.p=='b' && datum.k=='gnd'"}],"mark":{"type":"point","filled":true,"opacity":1,"strokeWidth":0,"color":"#000000","shape":"M -1 -0.9 L 1 0 L -1 0.9 Z","size":289},"encoding":{"x":{"field":"t","type":"quantitative"},"y":{"field":"v","type":"quantitative"}}},
{"data":{"name":"mk"},"transform":[{"filter":"datum.p=='b' && datum.k=='trig'"}],"mark":{"type":"point","filled":true,"opacity":1,"strokeWidth":0,"color":"#f07818","shape":"M -0.75 -1 L 0.75 -1 L 0.75 0.45 L 0 1 L -0.75 0.45 Z","size":225},"encoding":{"x":{"field":"t","type":"quantitative"},"y":{"field":"v","type":"quantitative"}}},
{"data":{"name":"mk"},"transform":[{"filter":"datum.p=='b' && datum.k=='tri'"}],"mark":{"type":"point","filled":true,"opacity":1,"strokeWidth":0,"color":"#f07818","shape":"M -1 -0.7 L 1 -0.7 L 0 0.7 Z","size":121},"encoding":{"x":{"field":"t","type":"quantitative"},"y":{"field":"v","type":"quantitative"}}},
{"data":{"name":"mk"},"transform":[{"filter":"datum.p=='b' && datum.k=='pur'"}],"mark":{"type":"point","filled":true,"opacity":1,"strokeWidth":0,"color":"#a030b0","shape":"M -1 0 L -0.2 -0.6 L -0.2 -0.15 L 1 -0.15 L 1 0.15 L -0.2 0.15 L -0.2 0.6 Z","size":144},"encoding":{"x":{"field":"t","type":"quantitative"},"y":{"field":"v","type":"quantitative"}}},
{"data":{"name":"mk"},"transform":[{"filter":"datum.p=='b' && datum.k=='trig'"}],"mark":{"type":"text","text":"T","font":"Liberation Sans","fontWeight":"bold","fontSize":10,"color":"#ffffff","align":"center","baseline":"middle","dy":-1},"encoding":{"x":{"field":"t","type":"quantitative"},"y":{"field":"v","type":"quantitative"}}}
]},
{"width": 527, "height": 425, "layer": [
{"data":{"name":"gx"},"mark":{"type":"rule","color":"#a0a0a0","strokeWidth":1.4,"strokeDash":[1.4,9.23]},"encoding":{"x":{"field":"t","type":"quantitative","scale":{"domain":[0,39.77],"nice":false,"zero":false}}}},
{"data":{"name":"gy"},"mark":{"type":"rule","color":"#a0a0a0","strokeWidth":1.4,"strokeDash":[1.4,9.23]},"encoding":{"y":{"field":"v","type":"quantitative","scale":{"domain":[-4,4],"nice":false,"zero":false}}}},
{"data":{"name":"tx"},"mark":{"type":"rule","color":"#909090","strokeWidth":1},"encoding":{"x":{"field":"t","type":"quantitative"},"y":{"datum":-0.066},"y2":{"datum":0.066}}},
{"data":{"name":"tx"},"mark":{"type":"rule","color":"#909090","strokeWidth":1},"encoding":{"x":{"field":"t","type":"quantitative"},"y":{"datum":4},"y2":{"datum":3.9}}},
{"data":{"name":"tx"},"mark":{"type":"rule","color":"#909090","strokeWidth":1},"encoding":{"x":{"field":"t","type":"quantitative"},"y":{"datum":-4},"y2":{"datum":-3.9}}},
{"data":{"name":"ty"},"mark":{"type":"rule","color":"#909090","strokeWidth":1},"encoding":{"y":{"field":"v","type":"quantitative"},"x":{"datum":19.74},"x2":{"datum":20.26}}},
{"data":{"name":"ty"},"mark":{"type":"rule","color":"#909090","strokeWidth":1},"encoding":{"y":{"field":"v","type":"quantitative"},"x":{"datum":0},"x2":{"datum":0.38}}},
{"data":{"name":"vab"},"transform":[{"filter":"datum.p=='c'"}],"mark":{"type":"rect","color":"#48e0f0","opacity":1},"encoding":{"x":{"field":"t1","type":"quantitative"},"x2":{"field":"t2"},"y":{"field":"lo","type":"quantitative"},"y2":{"field":"hi"}}},
{"data":{"name":"w"},"transform":[{"filter":"datum.p=='c'"}],"mark":{"type":"line","color":"#3cdc3c","strokeWidth":2.8,"interpolate":"monotone","clip":true},"encoding":{"x":{"field":"t","type":"quantitative"},"y":{"field":"d","type":"quantitative"}}},
{"data":{"name":"w"},"transform":[{"filter":"datum.p=='c'"}],"mark":{"type":"line","color":"#2424d6","strokeWidth":3.8,"interpolate":"monotone","clip":true},"encoding":{"x":{"field":"t","type":"quantitative"},"y":{"field":"i","type":"quantitative"}}},
{"data":{"name":"w"},"transform":[{"filter":"datum.p=='c'"}],"mark":{"type":"line","color":"#ee2ad2","strokeWidth":2,"interpolate":"monotone","clip":true},"encoding":{"x":{"field":"t","type":"quantitative"},"y":{"field":"g","type":"quantitative"}}},
{"data":{"name":"bl"},"mark":{"type":"rule","color":"#111111","strokeWidth":3},"encoding":{"x":{"field":"t","type":"quantitative"}}},
{"data":{"name":"bt"},"mark":{"type":"rule","color":"#111111","strokeWidth":3},"encoding":{"y":{"field":"v","type":"quantitative"}}},
{"data":{"name":"ar"},"transform":[{"filter":"datum.p=='c'"}],"mark":{"type":"rule","color":"#000000","strokeWidth":2},"encoding":{"x":{"field":"t1","type":"quantitative"},"y":{"field":"v1","type":"quantitative"},"x2":{"field":"t2"},"y2":{"field":"v2"}}},
{"data":{"name":"ar"},"transform":[{"filter":"datum.p=='c'"},{"calculate":"atan2((datum.t2-datum.t1)*13.25,(datum.v2-datum.v1)*53.125)*180/PI","as":"ang"}],"mark":{"type":"point","filled":true,"color":"#000000","opacity":1,"shape":"M 0 0 L 0.4 1 L -0.4 1 Z","size":676,"strokeWidth":0},"encoding":{"x":{"field":"t2","type":"quantitative"},"y":{"field":"v2","type":"quantitative"},"angle":{"field":"ang","type":"quantitative","scale":null}}},
{"data":{"name":"lb"},"transform":[{"filter":"datum.p=='c' && datum.k=='m'"}],"mark":{"type":"text","font":"Liberation Serif","fontStyle":"italic","fontWeight":"bold","fontSize":24,"align":"left","baseline":"alphabetic","color":"#1a1a1a"},"encoding":{"x":{"field":"t","type":"quantitative"},"y":{"field":"v","type":"quantitative"},"text":{"field":"s"}}},
{"data":{"name":"lb"},"transform":[{"filter":"datum.p=='c' && datum.k=='s'"}],"mark":{"type":"text","font":"Liberation Serif","fontStyle":"italic","fontWeight":"bold","fontSize":16,"align":"left","baseline":"alphabetic","color":"#1a1a1a"},"encoding":{"x":{"field":"t","type":"quantitative"},"y":{"field":"v","type":"quantitative"},"text":{"field":"s"}}},
{"data":{"name":"lb"},"transform":[{"filter":"datum.p=='c' && datum.k=='u'"}],"mark":{"type":"text","font":"Liberation Serif","fontWeight":"bold","fontSize":23.5,"align":"center","baseline":"middle","color":"#1a1a1a"},"encoding":{"x":{"field":"t","type":"quantitative"},"y":{"field":"v","type":"quantitative"},"text":{"field":"s"}}},
{"data":{"name":"lb"},"transform":[{"filter":"datum.p=='c' && datum.k=='T'"}],"mark":{"type":"text","font":"Liberation Sans","fontWeight":"bold","fontSize":23.5,"align":"center","baseline":"middle","color":"#1a1a1a"},"encoding":{"x":{"field":"t","type":"quantitative"},"y":{"field":"v","type":"quantitative"},"text":{"field":"s"}}},
{"data":{"name":"lb"},"transform":[{"filter":"datum.p=='c' && datum.k=='c'"}],"mark":{"type":"text","font":"Liberation Serif","fontSize":17,"align":"center","baseline":"middle","color":"#000000"},"encoding":{"x":{"field":"t","type":"quantitative"},"y":{"field":"v","type":"quantitative"},"text":{"field":"s"}}},
{"data":{"name":"mk"},"transform":[{"filter":"datum.p=='c' && datum.k=='gnd'"}],"mark":{"type":"point","filled":true,"opacity":1,"strokeWidth":0,"color":"#000000","shape":"M -1 -0.9 L 1 0 L -1 0.9 Z","size":289},"encoding":{"x":{"field":"t","type":"quantitative"},"y":{"field":"v","type":"quantitative"}}},
{"data":{"name":"mk"},"transform":[{"filter":"datum.p=='c' && datum.k=='trig'"}],"mark":{"type":"point","filled":true,"opacity":1,"strokeWidth":0,"color":"#f07818","shape":"M -0.75 -1 L 0.75 -1 L 0.75 0.45 L 0 1 L -0.75 0.45 Z","size":225},"encoding":{"x":{"field":"t","type":"quantitative"},"y":{"field":"v","type":"quantitative"}}},
{"data":{"name":"mk"},"transform":[{"filter":"datum.p=='c' && datum.k=='tri'"}],"mark":{"type":"point","filled":true,"opacity":1,"strokeWidth":0,"color":"#f07818","shape":"M -1 -0.7 L 1 -0.7 L 0 0.7 Z","size":121},"encoding":{"x":{"field":"t","type":"quantitative"},"y":{"field":"v","type":"quantitative"}}},
{"data":{"name":"mk"},"transform":[{"filter":"datum.p=='c' && datum.k=='pur'"}],"mark":{"type":"point","filled":true,"opacity":1,"strokeWidth":0,"color":"#a030b0","shape":"M -1 0 L -0.2 -0.6 L -0.2 -0.15 L 1 -0.15 L 1 0.15 L -0.2 0.15 L -0.2 0.6 Z","size":144},"encoding":{"x":{"field":"t","type":"quantitative"},"y":{"field":"v","type":"quantitative"}}},
{"data":{"name":"mk"},"transform":[{"filter":"datum.p=='c' && datum.k=='trig'"}],"mark":{"type":"text","text":"T","font":"Liberation Sans","fontWeight":"bold","fontSize":10,"color":"#ffffff","align":"center","baseline":"middle","dy":-1},"encoding":{"x":{"field":"t","type":"quantitative"},"y":{"field":"v","type":"quantitative"}}}
]}
]}
]
}
